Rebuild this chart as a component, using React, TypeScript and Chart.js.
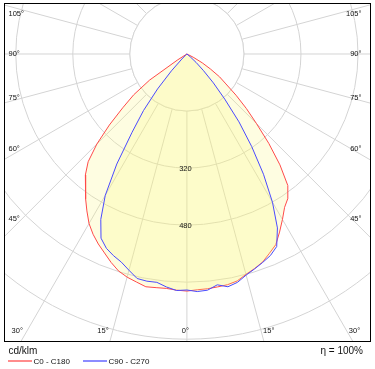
import { useEffect, useRef } from 'react';
import { Chart, registerables } from 'chart.js';

Chart.register(...registerables);

// gamma angles (degrees from nadir), 2.5° steps
const gammaDeg = [
  0, 2.5, 5, 7.5, 10, 12.5, 15, 17.5, 20, 22.5, 25, 27.5, 30, 32.5, 35, 37.5, 40, 42.5, 45,
  47.5, 50, 52.5, 55, 57.5, 60, 62.5, 65, 67.5, 70, 72.5, 75, 77.5, 80, 82.5, 85, 87.5, 90,
];

// cd/klm — red plane C0 (right half) and C180 (left half)
const c0 = [
  665, 662, 661, 659, 657, 652, 640, 631, 621, 605, 590, 563, 536, 510, 494, 465, 406, 340, 276,
  226, 180, 138, 112, 78, 50, 22, 5, 0, 0, 0, 0, 0, 0, 0, 0, 0, 0,
];
const c180 = [
  665, 663, 660, 661, 663, 655, 648, 638, 622, 604, 588, 570, 549, 522, 496, 466, 443, 410, 357,
  295, 235, 188, 128, 30, 0, 0, 0, 0, 0, 0, 0, 0, 0, 0, 0, 0, 0,
];
// blue plane C90 (right half) and C270 (left half)
const c90 = [
  662, 667, 665, 653, 663, 656, 642, 632, 622, 612, 596, 550, 480, 400, 317, 240, 165, 110, 65,
  35, 12, 0, 0, 0, 0, 0, 0, 0, 0, 0, 0, 0, 0, 0, 0, 0, 0,
];
const c270 = [
  662, 664, 656, 646, 647, 645, 628, 612, 602, 590, 570, 523, 458, 366, 268, 200, 128, 64, 20,
  5, 0, 0, 0, 0, 0, 0, 0, 0, 0, 0, 0, 0, 0, 0, 0, 0, 0,
];

const ringValues = [160, 320, 480, 640, 800, 960, 1120];
const ringLabelValues = [320, 480];
const angleLabelValues = [0, 15, 30, 45, 60, 75, 90, 105];
const seriesNames = ['C0 - C180', 'C90 - C270'];
const unitLabel = 'cd/klm';
const efficiencyLabel = 'η = 100%';

const RED = '#ff4a4a';
const BLUE = '#4a4aff';
const FILL = 'rgba(250, 245, 120, 0.22)';
const GRID = '#d4d4d4';
const FONT = '"Liberation Sans", Arial, sans-serif';

function toXY(right: number[], left: number[]) {
  const pts: { x: number; y: number }[] = [];
  for (let i = gammaDeg.length - 1; i >= 0; i--) {
    const g = (gammaDeg[i] * Math.PI) / 180;
    pts.push({ x: -left[i] * Math.sin(g), y: -left[i] * Math.cos(g) });
  }
  for (let i = 0; i < gammaDeg.length; i++) {
    const g = (gammaDeg[i] * Math.PI) / 180;
    pts.push({ x: right[i] * Math.sin(g), y: -right[i] * Math.cos(g) });
  }
  return pts;
}

const polarPlugin = {
  id: 'polarGrid',
  beforeDatasetsDraw(chart: any) {
    const { ctx, chartArea: a, scales } = chart;
    const cx = scales.x.getPixelForValue(0);
    const cy = scales.y.getPixelForValue(0);
    const ppu = scales.x.getPixelForValue(1) - cx;
    ctx.save();
    ctx.beginPath();
    ctx.rect(a.left, a.top, a.right - a.left, a.bottom - a.top);
    ctx.clip();
    ctx.strokeStyle = GRID;
    ctx.lineWidth = 1;
    for (const v of ringValues) {
      ctx.beginPath();
      ctx.arc(cx, cy, v * ppu, 0, Math.PI * 2);
      ctx.stroke();
    }
    const r0 = ringValues[0] * ppu;
    const r1 = 2000 * ppu;
    for (let k = 0; k < 24; k++) {
      const g = (k * 15 * Math.PI) / 180;
      const dx = Math.sin(g);
      const dy = Math.cos(g);
      ctx.beginPath();
      ctx.moveTo(cx + dx * r0, cy + dy * r0);
      ctx.lineTo(cx + dx * r1, cy + dy * r1);
      ctx.stroke();
    }
    ctx.fillStyle = '#ffffff';
    ctx.beginPath();
    ctx.arc(cx, cy, r0, 0, Math.PI * 2);
    ctx.fill();
    ctx.beginPath();
    ctx.arc(cx, cy, r0, 0, Math.PI * 2);
    ctx.stroke();
    ctx.restore();
  },
  afterDraw(chart: any) {
    const { ctx, chartArea: a, scales } = chart;
    const cx = scales.x.getPixelForValue(0);
    const cy = scales.y.getPixelForValue(0);
    const ppu = scales.x.getPixelForValue(1) - cx;
    ctx.save();
    ctx.fillStyle = '#111';
    ctx.textBaseline = 'middle';
    // radial labels
    ctx.font = `7.5px ${FONT}`;
    ctx.textAlign = 'center';
    for (const v of ringLabelValues) {
      ctx.fillText(String(v), cx - 1.5, cy + v * ppu + 1);
    }
    // angle labels
    const D = cx - (a.left + 18);
    for (const deg of angleLabelValues) {
      const g = (deg * Math.PI) / 180;
      const txt = `${deg}°`;
      for (const s of deg === 0 ? [0] : [-1, 1]) {
        if (deg <= 30) {
          const y = a.bottom - 10;
          const rayX = cx + s * (y - cy) * Math.tan(g);
          if (s === 0) {
            ctx.textAlign = 'center';
            ctx.fillText(txt, cx - 1.5, y);
          } else if (s < 0) {
            ctx.textAlign = 'right';
            ctx.fillText(txt, rayX - 4, y);
          } else {
            ctx.textAlign = 'left';
            ctx.fillText(txt, rayX + 2, y);
          }
        } else {
          const y = Math.max(a.top + 11, cy + D / Math.tan(g));
          if (s < 0) {
            ctx.textAlign = 'left';
            ctx.fillText(txt, a.left + 4.5, y);
          } else {
            ctx.textAlign = 'right';
            ctx.fillText(txt, a.right - 8.5, y);
          }
        }
      }
    }
    // frame
    ctx.strokeStyle = '#000';
    ctx.lineWidth = 1;
    ctx.strokeRect(a.left + 0.5, a.top + 0.5, a.right - a.left, a.bottom - a.top);
    // footer texts
    ctx.font = `10px ${FONT}`;
    ctx.textAlign = 'left';
    ctx.fillText(unitLabel, a.left + 4.5, a.bottom + 10);
    ctx.textAlign = 'right';
    ctx.fillText(efficiencyLabel, a.right - 7, a.bottom + 10);
    // legend
    ctx.font = `8px ${FONT}`;
    ctx.textAlign = 'left';
    const colors = ['#ff8c8c', '#8c8cff'];
    const starts = [a.left + 4, a.left + 79];
    seriesNames.forEach((name, i) => {
      ctx.strokeStyle = colors[i];
      ctx.lineWidth = 2;
      ctx.beginPath();
      ctx.moveTo(starts[i], a.bottom + 20);
      ctx.lineTo(starts[i] + 24, a.bottom + 20);
      ctx.stroke();
      ctx.fillText(name, starts[i] + 25.5, a.bottom + 20.5);
    });
    ctx.restore();
  },
};

export default function App() {
  const ref = useRef<HTMLCanvasElement>(null);
  useEffect(() => {
    const chart = new Chart(ref.current as HTMLCanvasElement, {
      type: 'scatter',
      data: {
        datasets: [
          {
            label: seriesNames[1],
            data: toXY(c90, c270),
            showLine: true,
            borderColor: BLUE,
            borderWidth: 1,
            backgroundColor: FILL,
            fill: 'shape',
            pointRadius: 0,
            tension: 0,
          },
          {
            label: seriesNames[0],
            data: toXY(c0, c180),
            showLine: true,
            borderColor: RED,
            borderWidth: 1,
            backgroundColor: FILL,
            fill: 'shape',
            pointRadius: 0,
            tension: 0,
          },
        ],
      },
      options: {
        animation: false,
        responsive: false,
        devicePixelRatio: 1,
        layout: { padding: { left: 4, top: 3, right: 5, bottom: 28 } },
        scales: {
          x: { type: 'linear', min: -513, max: 513.6, display: false },
          y: { type: 'linear', min: -805, max: 143, display: false },
        },
        plugins: { legend: { display: false }, tooltip: { enabled: false } },
      },
      plugins: [polarPlugin],
    });
    return () => chart.destroy();
  }, []);
  return (
    <div style={{ position: 'absolute', left: 0, top: 0, width: 375, height: 369, background: '#fff' }}>
      <canvas ref={ref} width={375} height={369} style={{ display: 'block' }} />
    </div>
  );
}
